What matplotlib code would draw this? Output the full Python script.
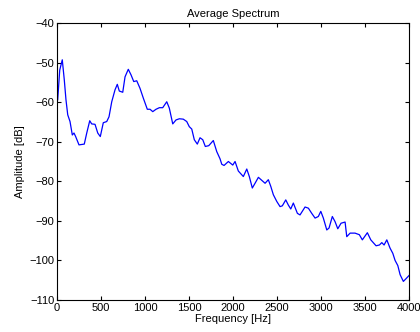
import numpy as np
import matplotlib
matplotlib.use("Agg")
import matplotlib.pyplot as plt

#Values
freq = [8, 31, 60, 83, 102, 122, 148, 174, 193, 212, 250, 310, 338, 372, 394, 432,
        463, 492, 526, 565, 591, 622, 659, 685, 708, 747, 773, 810, 841, 872, 906, 943,
        981, 1026, 1057, 1088, 1125, 1163, 1201, 1247, 1276, 1315, 1352, 1390, 1435, 1474,
        1503, 1531, 1560, 1594, 1625, 1656, 1685, 1724, 1776, 1815, 1852, 1872, 1898, 1947,
        1997, 2023, 2060, 2117, 2156, 2185, 2219, 2250, 2288, 2364, 2401, 2429, 2458, 2497,
        2534, 2560, 2599, 2628, 2656, 2685, 2731, 2761, 2818, 2856, 2894, 2932, 2969, 2997,
        3026, 3065, 3091, 3128, 3159, 3190, 3227, 3273, 3292, 3330, 3386, 3435, 3469, 3526,
        3565, 3625, 3663, 3690, 3716, 3747, 3784, 3815, 3841, 3872, 3898, 3935, 3966, 4000]
amp = [-59.4, -51.9, -49.3, -54.4, -59.4, -63.2, -64.9, -68.3, -67.8, -68.7, -70.8, -70.6,
       -67.8, -64.7, -65.5, -65.6, -67.8, -68.7, -65.2, -64.9, -63.7, -59.9, -56.9, -55.5,
       -57.2, -57.5, -53.6, -51.7, -53.1, -54.8, -54.6, -56.5, -59.0, -61.8, -61.8, -62.4,
       -61.8, -61.4, -61.4, -59.9, -61.5, -65.5, -64.5, -64.2, -64.3, -64.9, -66.2, -66.8,
       -69.5, -70.6, -69.0, -69.5, -71.2, -71.0, -69.7, -72.5, -74.3, -75.7, -76.0, -75.0,
       -75.9, -75.0, -77.4, -78.8, -76.9, -78.8, -81.7, -80.5, -79.0, -80.5, -79.6, -81.3,
       -83.4, -85.1, -86.4, -86.2, -84.7, -86.0, -87.0, -85.5, -88.1, -88.5, -86.5, -86.8,
       -88.1, -89.3, -88.9, -87.6, -89.3, -92.3, -91.8, -88.9, -90.2, -92.0, -90.6, -90.3,
       -94.0, -93.1, -93.1, -93.5, -94.8, -93.0, -94.8, -96.3, -96.1, -95.5, -96.1, -94.8,
       -96.9, -98.2, -100.0, -101.3, -103.6, -105.3, -104.6, -103.8]

xticks = [0, 500, 1000, 1500, 2000, 2500, 3000, 3500, 4000]
yticks = [-110, -100, -90, -80, -70, -60, -50, -40]

plt.rcParams['font.family'] = ['Liberation Sans', 'DejaVu Sans']

fig = plt.figure(figsize=(4.2, 3.32), dpi=100)
ax = fig.add_axes([0.1357, 0.0964, 0.8383, 0.8343])
ax.plot(freq, amp, color=(0, 0, 1), linewidth=0.9)

ax.set_xlim(0, 4000)
ax.set_ylim(-110, -40)
ax.set_xticks(xticks)
ax.set_yticks(yticks)
ax.set_yticklabels([str(t).replace('-', '\u2212') for t in yticks])
ax.tick_params(direction='in', labelsize=8, length=3, width=0.8, top=True, right=True, pad=2)
for s in ax.spines.values():
    s.set_linewidth(0.8)

ax.set_title("Average Spectrum", fontsize=8, pad=4)
ax.set_xlabel("Frequency [Hz]", fontsize=8, labelpad=1)
ax.set_ylabel("Amplitude [dB]", fontsize=8, labelpad=3)

fig.savefig("out.png", dpi=100)
